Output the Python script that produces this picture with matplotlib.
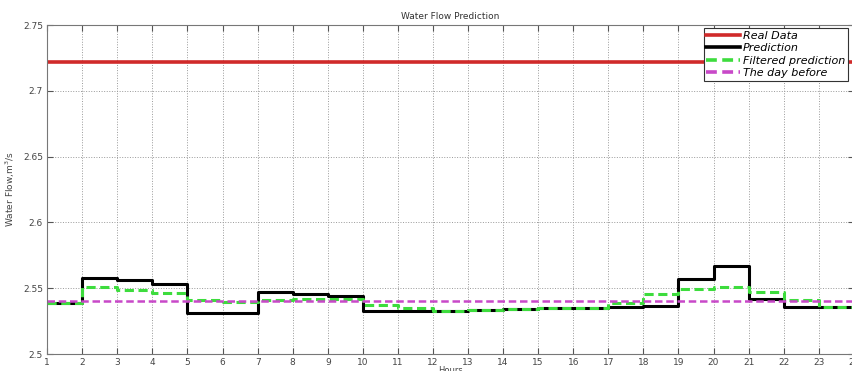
import matplotlib.pyplot as plt

# Dados (valor por hora, degraus)
hours = list(range(1, 25))
real_data = [2.7217] * 23
prediction = [2.539, 2.558, 2.556, 2.553, 2.531, 2.531, 2.547, 2.5456, 2.544, 2.5325, 2.5325,
              2.5328, 2.5333, 2.534, 2.5346, 2.5346, 2.5354, 2.5366, 2.5572, 2.5666, 2.5418,
              2.5354, 2.5354]
filtered = [2.539, 2.551, 2.549, 2.5467, 2.541, 2.5395, 2.541, 2.5415, 2.5417, 2.537, 2.5346,
            2.5325, 2.5333, 2.534, 2.5346, 2.5346, 2.5385, 2.5454, 2.5495, 2.5512, 2.5469,
            2.541, 2.536]
day_before = [2.540] * 23

fig = plt.figure(figsize=(8.52, 3.71), dpi=100)
ax = fig.add_axes([0.0554, 0.0458, 1.0021 - 0.0554, 0.9326 - 0.0458])

def step(vals):
    return vals + [vals[-1]]

ax.step(hours, step(real_data), where='post', color='#d02a2a', lw=2.6, label='Real Data')
ax.step(hours, step(prediction), where='post', color='black', lw=2.2, label='Prediction')
ax.step(hours, step(filtered), where='post', color='#3ddc3d', lw=2.2, ls=(0, (3, 1.5)),
        label='Filtered prediction')
ax.step(hours, step(day_before), where='post', color='#c848c8', lw=1.8, ls=(0, (3, 1.5)),
        label='The day before')

ax.set_xlim(1, 24)
ax.set_ylim(2.5, 2.75)
ax.set_xticks(hours)
ax.set_xticklabels([str(h) for h in hours])
yt = [2.5, 2.55, 2.6, 2.65, 2.7, 2.75]
ax.set_yticks(yt)
ax.set_yticklabels(['2.5', '2.55', '2.6', '2.65', '2.7', '2.75'])
ax.tick_params(direction='in', length=4, labelsize=6.5, labelcolor='#444444', color='#555555',
               top=True, right=True, pad=3)
ax.grid(True, ls=':', color='#999999', lw=0.7)
for s in ax.spines.values():
    s.set_color('#777777')

ax.set_title('Water Flow Prediction', fontsize=6.5, color='#333333', pad=4)
ax.set_xlabel('Hours', fontsize=6, color='#444444', labelpad=-1)
ax.set_ylabel('Water Flow,m$^3$/s', fontsize=6.5, color='#444444', labelpad=4)

leg = ax.legend(loc='upper right', bbox_to_anchor=(0.993, 0.99), fancybox=False,
                edgecolor='#333333', framealpha=1, borderpad=0.25, labelspacing=0.2,
                handlelength=3.0, handletextpad=0.3, borderaxespad=0,
                prop={'style': 'italic', 'size': 8})
leg.get_frame().set_linewidth(0.8)
for ln in leg.get_lines():
    ln.set_linewidth(2.6)

fig.savefig('out.png', dpi=100)
